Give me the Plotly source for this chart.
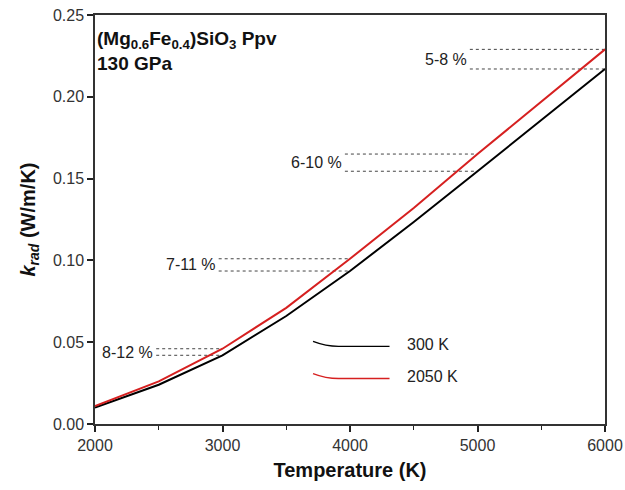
import plotly.graph_objects as go

temperature = [2000, 2500, 3000, 3500, 4000, 4500, 5000, 5500, 6000]
k_300 = [0.0100, 0.0240, 0.0420, 0.0660, 0.0935, 0.1235, 0.1545, 0.1860, 0.2170]
k_2050 = [0.0110, 0.0260, 0.0460, 0.0710, 0.1010, 0.1320, 0.1650, 0.1970, 0.2290]

# difference markers: (label, temperature index, start temperature of dotted guide)
diff_labels = ["8-12 %", "7-11 %", "6-10 %", "5-8 %"]
diff_idx = [2, 4, 6, 8]
diff_start = [2480, 2970, 3960, 4940]

legend_names = ["300 K", "2050 K"]
colors = ["#000000", "#d62020"]

FONT = "Liberation Sans, Arial, sans-serif"

fig = go.Figure()
fig.add_trace(go.Scatter(x=temperature, y=k_300, mode="lines",
                         line=dict(color=colors[0], width=2), showlegend=False))
fig.add_trace(go.Scatter(x=temperature, y=k_2050, mode="lines",
                         line=dict(color=colors[1], width=2), showlegend=False))

annotations = []
shapes = []
for lab, i, xs in zip(diff_labels, diff_idx, diff_start):
    xe = temperature[i]
    for yv in (k_2050[i], k_300[i]):
        shapes.append(dict(type="line", xref="x", yref="y", x0=xs, x1=xe, y0=yv, y1=yv,
                           line=dict(color="#444444", width=1, dash="dot"), layer="below"))
    annotations.append(dict(x=xs, y=(k_2050[i] + k_300[i]) / 2, xref="x", yref="y",
                            text=lab, showarrow=False, xanchor="right", xshift=-1,
                            font=dict(family=FONT, size=16, color="#222222")))

# legend (drawn manually to match long sample lines)
leg_y = [0.0475, 0.0278]
for name, c, ly in zip(legend_names, colors, leg_y):
    shapes.append(dict(type="path", xref="x", yref="y",
                       path=f"M 3710,{ly+0.003} Q 3810,{ly} 3910,{ly} L 4310,{ly}",
                       line=dict(color=c, width=1.3)))
    annotations.append(dict(x=4430, y=ly + 0.001, xref="x", yref="y", text=name, showarrow=False,
                            xanchor="left", font=dict(family=FONT, size=16, color="#222222")))

annotations.append(dict(x=0.0, y=0.972, xref="paper", yref="paper",
                        text="<b>(Mg<sub>0.6</sub>Fe<sub>0.4</sub>)SiO<sub>3</sub> Ppv<br>130 GPa</b>",
                        showarrow=False, xanchor="left", yanchor="top", align="left",
                        font=dict(family=FONT, size=19, color="#111111")))

fig.update_layout(
    width=625, height=490,
    margin=dict(l=95, r=20, t=15, b=66),
    paper_bgcolor="white", plot_bgcolor="white",
    shapes=shapes, annotations=annotations,
    font=dict(family=FONT, size=16, color="#333333"),
    xaxis=dict(range=[2000, 6000], tickvals=[2000, 3000, 4000, 5000, 6000],
               automargin=False,
               ticks="outside", ticklen=6, tickwidth=1.5, tickcolor="#222",
               minor=dict(tickvals=[2500, 3500, 4500, 5500], ticks="outside", ticklen=4,
                          tickcolor="#222", tickwidth=1),
               showline=True, linecolor="#333", linewidth=1.5, mirror=True,
               showgrid=False, zeroline=False,
               tickfont=dict(family=FONT, size=16, color="#333"),
               title=dict(text="<b>Temperature (K)</b>", standoff=10,
                          font=dict(family=FONT, size=20, color="#111"))),
    yaxis=dict(range=[0, 0.25], tickvals=[0, 0.05, 0.10, 0.15, 0.20, 0.25],
               tickformat=".2f", automargin=False,
               ticks="outside", ticklen=6, tickwidth=1.5, tickcolor="#222",
               showline=True, linecolor="#333", linewidth=1.5, mirror=True,
               showgrid=False, zeroline=False,
               tickfont=dict(family=FONT, size=16, color="#333"),
               title=dict(text="<b><i>k</i><sub><i>rad</i></sub> (W/m/K)</b>", standoff=12,
                          font=dict(family=FONT, size=20, color="#111"))),
)

fig.write_html("out.html")
